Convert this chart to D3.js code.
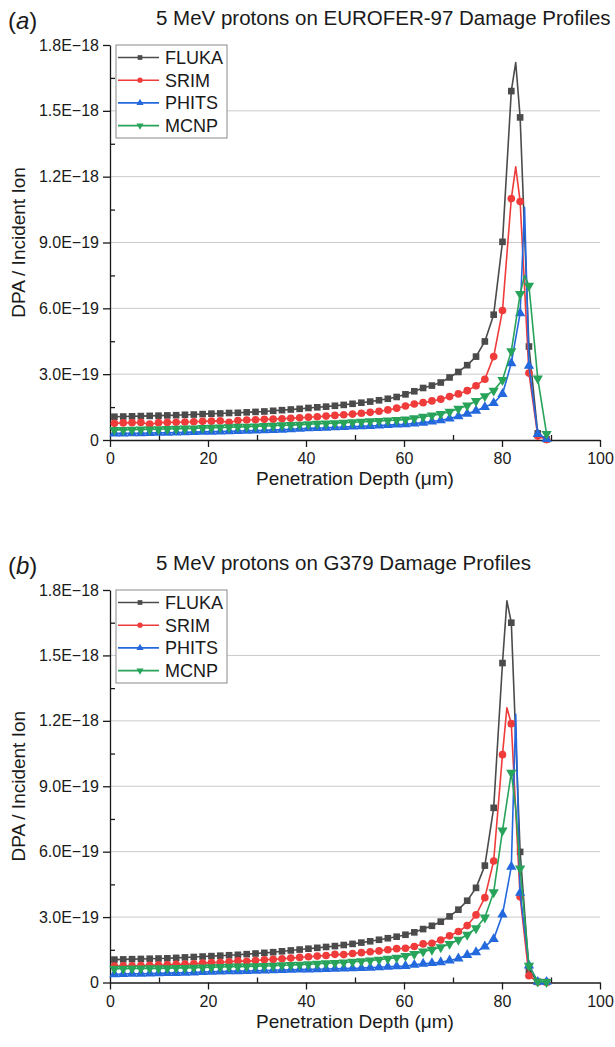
<!DOCTYPE html>
<html>
<head>
<meta charset="utf-8">
<script src="https://cdn.jsdelivr.net/npm/d3@7/dist/d3.min.js"></script>
<style>
  body { margin: 0; background: #fff; }
  text { font-family: "Liberation Sans", Arial, sans-serif; fill: #1a1a1a; }
</style>
</head>
<body>
<svg id="fig" width="615" height="1047"></svg>
<script>
// depth of every marked point (um)
var depths = [0.9, 2.7, 4.5, 6.3, 8.1, 9.9, 11.7, 13.5, 15.3, 17.1,
  18.9, 20.7, 22.5, 24.3, 26.1, 27.9, 29.7, 31.5, 33.3, 35.1,
  36.9, 38.7, 40.5, 42.3, 44.1, 45.9, 47.7, 49.5, 51.3, 53.1,
  54.9, 56.7, 58.5, 60.3, 62.1, 63.9, 65.7, 67.5, 69.3, 71.1,
  72.9, 74.7, 76.5, 78.3, 80.1, 81.9, 83.7, 85.5, 87.3, 89.1];

// all values in units of 1E-19 DPA / ion
var UNIT = 1e-19;

// (a) EUROFER-97
var flukaA = [1.06, 1.07, 1.08, 1.09, 1.10, 1.11, 1.12, 1.13, 1.15, 1.16,
  1.18, 1.20, 1.21, 1.23, 1.24, 1.26, 1.28, 1.30, 1.33, 1.36,
  1.39, 1.42, 1.46, 1.49, 1.52, 1.56, 1.60, 1.65, 1.70, 1.75,
  1.81, 1.88, 1.96, 2.08, 2.22, 2.37, 2.48, 2.62, 2.85, 3.10,
  3.41, 3.80, 4.49, 5.71, 9.03, 15.9, 14.7, 4.26, 0.30, 0.03];
var srimA = [0.76, 0.78, 0.79, 0.80, 0.72, 0.79, 0.80, 0.81, 0.82, 0.83,
  0.85, 0.86, 0.87, 0.80, 0.89, 0.91, 0.92, 0.94, 0.95, 0.97,
  0.99, 1.01, 1.04, 1.06, 1.09, 1.12, 1.15, 1.18, 1.22, 1.26,
  1.31, 1.37, 1.45, 1.55, 1.64, 1.70, 1.78, 1.86, 1.98, 2.10,
  2.25, 2.47, 2.77, 3.80, 5.90, 11.0, 10.87, 3.05, 0.18, 0.02];
var phitsA = [0.30, 0.30, 0.31, 0.31, 0.32, 0.33, 0.33, 0.34, 0.35, 0.36,
  0.37, 0.38, 0.39, 0.40, 0.41, 0.42, 0.43, 0.44, 0.46, 0.47,
  0.49, 0.51, 0.53, 0.55, 0.56, 0.58, 0.59, 0.61, 0.62, 0.64,
  0.66, 0.68, 0.70, 0.72, 0.75, 0.79, 0.84, 0.90, 0.98, 1.08,
  1.20, 1.33, 1.50, 1.68, 2.10, 3.50, 5.78, 3.38, 0.27, 0.05];
var mcnpA = [0.46, 0.46, 0.47, 0.48, 0.48, 0.49, 0.50, 0.51, 0.52, 0.53,
  0.55, 0.56, 0.57, 0.58, 0.60, 0.61, 0.62, 0.64, 0.65, 0.67,
  0.68, 0.70, 0.72, 0.74, 0.75, 0.77, 0.79, 0.81, 0.83, 0.85,
  0.87, 0.89, 0.91, 0.93, 0.99, 1.06, 1.12, 1.19, 1.29, 1.42,
  1.57, 1.78, 2.00, 2.25, 2.73, 4.05, 6.65, 7.03, 2.80, 0.28];

// (b) G379
var flukaB = [1.05, 1.06, 1.07, 1.08, 1.09, 1.10, 1.11, 1.13, 1.15, 1.17,
  1.19, 1.21, 1.23, 1.25, 1.27, 1.30, 1.33, 1.36, 1.39, 1.43,
  1.47, 1.51, 1.55, 1.59, 1.63, 1.67, 1.72, 1.77, 1.83, 1.89,
  1.96, 2.03, 2.10, 2.19, 2.30, 2.45, 2.60, 2.79, 3.03, 3.34,
  3.75, 4.34, 5.36, 8.01, 14.65, 16.5, 5.99, 0.55, 0.03, 0.02];
var srimB = [0.75, 0.76, 0.77, 0.78, 0.79, 0.80, 0.81, 0.83, 0.84, 0.86,
  0.89, 0.91, 0.93, 0.95, 0.99, 0.97, 1.01, 1.04, 1.06, 1.09,
  1.12, 1.15, 1.18, 1.21, 1.24, 1.29, 1.28, 1.33, 1.37, 1.41,
  1.45, 1.50, 1.55, 1.57, 1.65, 1.77, 1.80, 1.95, 2.14, 2.34,
  2.61, 3.10, 3.89, 5.57, 10.45, 11.87, 3.93, 0.31, 0.02, 0.01];
var phitsB = [0.38, 0.39, 0.40, 0.40, 0.41, 0.42, 0.43, 0.44, 0.45, 0.46,
  0.48, 0.49, 0.50, 0.51, 0.52, 0.53, 0.54, 0.55, 0.56, 0.57,
  0.58, 0.59, 0.60, 0.61, 0.62, 0.63, 0.64, 0.65, 0.66, 0.68,
  0.70, 0.72, 0.74, 0.76, 0.81, 0.86, 0.89, 0.93, 1.01, 1.10,
  1.26, 1.39, 1.65, 1.99, 3.12, 5.31, 4.11, 0.78, 0.03, 0.03];
var mcnpB = [0.63, 0.63, 0.64, 0.64, 0.65, 0.65, 0.66, 0.67, 0.67, 0.68,
  0.69, 0.70, 0.71, 0.72, 0.73, 0.74, 0.75, 0.76, 0.77, 0.79,
  0.80, 0.82, 0.84, 0.86, 0.88, 0.90, 0.92, 0.95, 0.98, 1.01,
  1.05, 1.09, 1.14, 1.22, 1.31, 1.42, 1.50, 1.62, 1.77, 1.96,
  2.19, 2.49, 2.98, 4.14, 6.97, 9.62, 5.23, 0.77, 0.04, 0.02];

// in-between points drawn by the line only (no marker): [depth, value]
var peakFlukaA = [[82.8, 17.2]];
var peakSrimA = [[82.8, 12.45]];
var peakPhitsA = [[84.6, 10.6]];
var peakMcnpA = [[84.6, 7.5]];
var peakFlukaB = [[81.0, 17.5]];
var peakSrimB = [[81.0, 12.6]];
var peakPhitsB = [[82.8, 12.3]];
var peakMcnpB = [[82.8, 8.0]];

var seriesNames = ["FLUKA", "SRIM", "PHITS", "MCNP"];
var seriesColors = ["#4b4b4b", "#f03b3b", "#2468de", "#27a35a"];
var xTicks = [0, 20, 40, 60, 80, 100];
var xMinor = [10, 30, 50, 70, 90];
var yTicks = [0, 3e-19, 6e-19, 9e-19, 1.2e-18, 1.5e-18, 1.8e-18];
var yTickLabels = ["0", "3.0E\u221219", "6.0E\u221219", "9.0E\u221219", "1.2E\u221218", "1.5E\u221218", "1.8E\u221218"];
var yMinor = [1.5e-19, 4.5e-19, 7.5e-19, 1.05e-18, 1.35e-18, 1.65e-18];

var panels = [
  { tag: "a", title: "5 MeV protons on EUROFER-97 Damage Profiles", top: 45, bottom: 440,
    values: [flukaA, srimA, phitsA, mcnpA], peaks: [peakFlukaA, peakSrimA, peakPhitsA, peakMcnpA] },
  { tag: "b", title: "5 MeV protons on G379 Damage Profiles", top: 590, bottom: 982.5,
    values: [flukaB, srimB, phitsB, mcnpB], peaks: [peakFlukaB, peakSrimB, peakPhitsB, peakMcnpB] }
];

var svg = d3.select("#fig");
var x = d3.scaleLinear().domain([0, 100]).range([110, 600]);

var markerTypes = [d3.symbolSquare, d3.symbolCircle, d3.symbolTriangle, d3.symbolTriangle];

function markerPath(i, size) {
  return d3.symbol().type(markerTypes[i]).size(size)();
}

panels.forEach(function(p) {
  var y = d3.scaleLinear().domain([0, 1.8e-18]).range([p.bottom, p.top]);
  var g = svg.append("g");

  // grid
  g.selectAll(".grid")
    .data(yTicks.slice(1, -1))
    .enter().append("line")
    .attr("x1", x(0)).attr("x2", x(100))
    .attr("y1", d => y(d)).attr("y2", d => y(d))
    .attr("stroke", "#cacaca").attr("stroke-width", 1);

  // axes
  g.append("g").attr("transform", "translate(0," + p.bottom + ")")
    .call(d3.axisBottom(x).tickValues(xTicks).tickSize(7).tickSizeOuter(0).tickPadding(6));
  g.append("g").attr("transform", "translate(0," + p.bottom + ")")
    .call(d3.axisBottom(x).tickValues(xMinor).tickSize(-5).tickSizeOuter(0).tickFormat(""))
    .select(".domain").remove();
  g.append("g").attr("transform", "translate(110,0)")
    .call(d3.axisLeft(y).tickValues(yTicks).tickSize(7).tickSizeOuter(0).tickPadding(4)
      .tickFormat((d, i) => yTickLabels[i]));
  g.append("g").attr("transform", "translate(110,0)")
    .call(d3.axisLeft(y).tickValues(yMinor).tickSize(-5).tickSizeOuter(0).tickFormat(""))
    .select(".domain").remove();
  g.selectAll(".domain, .tick line").attr("stroke", "#1a1a1a").attr("stroke-width", 1.3);
  g.selectAll(".tick text").style("font-size", "16px").attr("fill", "#1a1a1a");

  // series
  p.values.forEach(function(vals, i) {
    var pts = depths.map((d, k) => [d, vals[k]]);
    var all = pts.concat(p.peaks[i]).sort((a, b) => a[0] - b[0]);
    var line = d3.line().x(d => x(d[0])).y(d => y(d[1] * UNIT));
    g.append("path")
      .datum(all)
      .attr("d", line)
      .attr("fill", "none")
      .attr("stroke", seriesColors[i])
      .attr("stroke-width", 1.6)
      .attr("stroke-linejoin", "round");
    g.selectAll(".m" + i)
      .data(pts)
      .enter().append("path")
      .attr("d", markerPath(i, i == 0 ? 44 : 46))
      .attr("transform", d => "translate(" + x(d[0]) + "," + y(d[1] * UNIT) + ")" + (i == 3 ? " rotate(180)" : ""))
      .attr("fill", seriesColors[i]);
  });

  // legend
  var lg = g.append("g").attr("transform", "translate(116," + p.top + ")");
  lg.append("rect")
    .attr("x", 0).attr("y", 0).attr("width", 111).attr("height", 93)
    .attr("fill", "#fff").attr("stroke", "#8a8a8a").attr("stroke-width", 1);
  seriesNames.forEach(function(name, i) {
    var row = lg.append("g").attr("transform", "translate(0," + (12.5 + i * 22.7) + ")");
    row.append("line").attr("x1", 2).attr("x2", 43).attr("stroke", seriesColors[i]).attr("stroke-width", 1.6);
    row.append("path").attr("d", markerPath(i, 22))
      .attr("transform", "translate(24,0)" + (i == 3 ? " rotate(180)" : ""))
      .attr("fill", seriesColors[i]);
    row.append("text").attr("x", 49).attr("y", 6.5)
      .style("font-size", "18px").text(name);
  });

  // titles and labels
  g.append("text").attr("x", 8).attr("y", p.top - 16)
    .style("font-size", "24px")
    .html("(<tspan font-style='italic'>" + p.tag + "</tspan>)");
  g.append("text").attr("x", 156).attr("y", p.top - 20)
    .style("font-size", "20.5px").text(p.title);
  g.append("text").attr("x", 355).attr("y", p.bottom + 45)
    .attr("text-anchor", "middle").style("font-size", "19px")
    .text("Penetration Depth (\u03bcm)");
  g.append("text")
    .attr("transform", "translate(25," + ((p.top + p.bottom) / 2) + ") rotate(-90)")
    .attr("text-anchor", "middle").style("font-size", "19px")
    .text("DPA / Incident Ion");
});
</script>
</body>
</html>
